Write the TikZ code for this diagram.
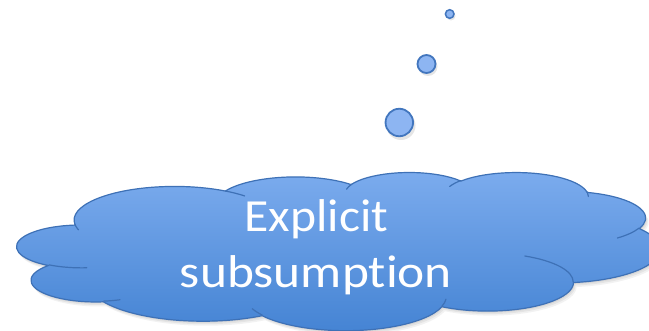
\documentclass[tikz,border=0pt]{standalone}
\usepackage{fontspec}
\setmainfont{Carlito}[Ligatures=NoCommon]
\definecolor{cloudtop}{RGB}{124,172,238}
\definecolor{cloudbot}{RGB}{68,131,211}
\definecolor{cloudline}{RGB}{62,113,182}
\definecolor{bubfill}{RGB}{141,181,242}
\definecolor{bubline}{RGB}{66,118,190}
% convert an OOXML arcTo (visual angles) into TikZ parametric angles
\newcommand\ooconv[5]{%
  \pgfmathsetmacro\ooS{atan2((#2)*sin(#4),(#3)*cos(#4))}%
  \pgfmathsetmacro\ooE{atan2((#2)*sin((#4)+(#5)),(#3)*cos((#4)+(#5)))}%
  \pgfmathsetmacro\ooD{\ooE-\ooS}%
  \pgfmathsetmacro\ooD{\ooD+((#5)>0)*(\ooD<0)*360-((#5)<0)*(\ooD>0)*360}%
  \pgfmathsetmacro\ooE{\ooS+\ooD}%
  \expandafter\edef\csname ooS#1\endcsname{\ooS}%
  \expandafter\edef\csname ooE#1\endcsname{\ooE}%
}
\begin{document}
\begin{tikzpicture}[x=1pt,y=1pt,
  cloudframe/.style={shift={(17,158)},xscale=14.88,yscale=-3.66},
  bubble/.style={circle,draw=bubline,fill=bubfill,line width=1.8pt,inner sep=0pt},
  bubshadow/.style={circle,fill=black,opacity=0.10,inner sep=0pt},
  cloudtext/.style={text=white,anchor=base,inner sep=0pt,xscale=1.08,
    font=\fontsize{46}{55}\selectfont}]
\useasboundingbox (0,0) rectangle (649,330);
\clip (0,0) rectangle (649,330);
% outer path arcs
\ooconv{a}{6.753}{9.190}{-190.48748}{123.78053}
\ooconv{b}{5.333}{7.267}{-144.10238}{89.94523}
\ooconv{c}{4.365}{5.945}{-145.80792}{99.72302}
\ooconv{d}{4.857}{6.595}{-130.98607}{117.24173}
\ooconv{e}{5.333}{7.273}{-78.70888}{109.02692}
\ooconv{f}{6.775}{9.220}{-46.26725}{130.269}
\ooconv{g}{5.785}{7.867}{0.62502}{114.03333}
\ooconv{h}{6.752}{9.215}{22.4516}{115.17255}
\ooconv{i}{7.720}{10.543}{66.24263}{75.71102}
\ooconv{j}{4.360}{5.918}{-274.94208}{146.73557}
\ooconv{k}{4.345}{5.945}{-246.8285}{152.51885}
% inner lines
\ooconv{la}{4.345}{5.945}{86.742}{26.4295}
\ooconv{lb}{4.360}{5.918}{73.61047}{11.44747}
\ooconv{lc}{6.752}{9.215}{137.62415}{14.0811}
\ooconv{ld}{6.752}{9.215}{6.45327}{15.99835}
\ooconv{le}{5.785}{7.867}{-70.29235}{70.91737}
\ooconv{lf}{5.333}{7.273}{30.31803}{27.7515}
\ooconv{lg}{4.857}{6.595}{-13.74433}{14.8589}
\ooconv{lh}{4.857}{6.595}{-149.18145}{18.19537}
\ooconv{li}{4.365}{5.945}{-163.49427}{17.68635}
\ooconv{lj}{6.753}{9.190}{-66.70695}{12.31935}
\ooconv{lk}{6.753}{9.190}{157.65435}{11.85817}
\def\cloudoutline{(3.9,14.37)
  arc[start angle=\ooSa,end angle=\ooEa,x radius=6.753,y radius=9.190]
  arc[start angle=\ooSb,end angle=\ooEb,x radius=5.333,y radius=7.267]
  arc[start angle=\ooSc,end angle=\ooEc,x radius=4.365,y radius=5.945]
  arc[start angle=\ooSd,end angle=\ooEd,x radius=4.857,y radius=6.595]
  arc[start angle=\ooSe,end angle=\ooEe,x radius=5.333,y radius=7.273]
  arc[start angle=\ooSf,end angle=\ooEf,x radius=6.775,y radius=9.220]
  arc[start angle=\ooSg,end angle=\ooEg,x radius=5.785,y radius=7.867]
  arc[start angle=\ooSh,end angle=\ooEh,x radius=6.752,y radius=9.215]
  arc[start angle=\ooSi,end angle=\ooEi,x radius=7.720,y radius=10.543]
  arc[start angle=\ooSj,end angle=\ooEj,x radius=4.360,y radius=5.918]
  arc[start angle=\ooSk,end angle=\ooEk,x radius=4.345,y radius=5.945]
  -- cycle}
% soft shadow of the cloud
\begin{scope}[shift={(1,-1.5)},cloudframe]
  \fill[black,opacity=0.06] \cloudoutline;
\end{scope}
\begin{scope}[shift={(2,-3)},cloudframe]
  \fill[black,opacity=0.06] \cloudoutline;
\end{scope}
\begin{scope}[shift={(3,-4.5)},cloudframe]
  \fill[black,opacity=0.05] \cloudoutline;
\end{scope}
% cloud body
\begin{scope}[cloudframe]
  \shade[top color=cloudtop,bottom color=cloudbot,draw=cloudline,line width=1.2pt,line join=round] \cloudoutline;
  \draw[cloudline,line width=1.2pt,line cap=round]
    (4.693,26.177) arc[start angle=\ooSla,end angle=\ooEla,x radius=4.345,y radius=5.945]
    (6.928,34.899) arc[start angle=\ooSlb,end angle=\ooElb,x radius=4.360,y radius=5.918]
    (16.478,39.090) arc[start angle=\ooSlc,end angle=\ooElc,x radius=6.752,y radius=9.215]
    (28.827,34.751) arc[start angle=\ooSld,end angle=\ooEld,x radius=6.752,y radius=9.215]
    (34.129,22.954) arc[start angle=\ooSle,end angle=\ooEle,x radius=5.785,y radius=7.867]
    (41.798,15.354) arc[start angle=\ooSlf,end angle=\ooElf,x radius=5.333,y radius=7.273]
    (38.324,5.426) arc[start angle=\ooSlg,end angle=\ooElg,x radius=4.857,y radius=6.595]
    (29.078,3.952) arc[start angle=\ooSlh,end angle=\ooElh,x radius=4.857,y radius=6.595]
    (22.141,4.720) arc[start angle=\ooSli,end angle=\ooEli,x radius=4.365,y radius=5.945]
    (14.000,5.192) arc[start angle=\ooSlj,end angle=\ooElj,x radius=6.753,y radius=9.190]
    (4.127,15.789) arc[start angle=\ooSlk,end angle=\ooElk,x radius=6.753,y radius=9.190];
\end{scope}
% thought bubbles
\node[bubshadow,minimum size=9pt] (s1) at (451,314) {};
\node[bubshadow,minimum size=19pt] (s2) at (428,263.5) {};
\node[bubshadow,minimum size=29pt] (s3) at (401,204.5) {};
\node[bubble,minimum size=8.6pt,line width=1.5pt] (b1) at (449.7,316) {};
\node[bubble,minimum size=18pt] (b2) at (426.5,266) {};
\node[bubble,minimum size=27.5pt] (b3) at (399.3,207.5) {};
% text
\node[cloudtext] (t1) at (316.5,98.3) {Explicit};
\node[cloudtext,xscale=1.035] (t2) at (316,43) {subsumption};
\end{tikzpicture}
\end{document}
